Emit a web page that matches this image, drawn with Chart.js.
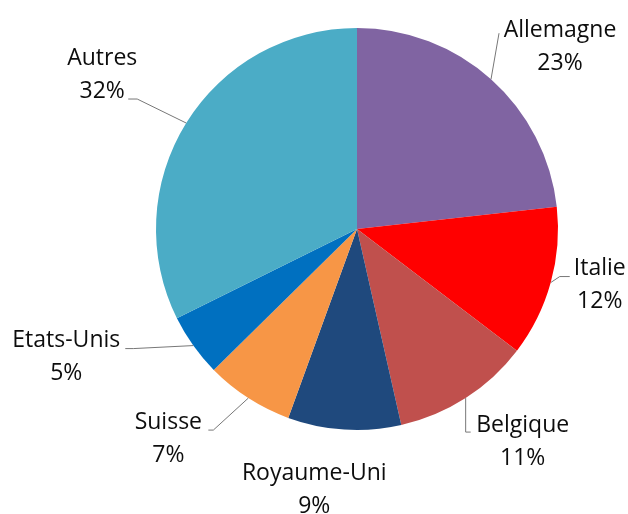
<!DOCTYPE html>
<html>
<head>
  <title>Répartition par pays</title>
  <script src="https://cdn.jsdelivr.net/npm/chart.js"></script>
  <style>
    body { margin: 0; background: #fff; }
  </style>
</head>
<body>
  <canvas id="chart" width="628" height="514"></canvas>

  <script>
    // Data
    const countries = ['Allemagne', 'Italie', 'Belgique', 'Royaume-Uni', 'Suisse', 'Etats-Unis', 'Autres'];
    const shares = [23, 12, 11, 9, 7, 5, 32];
    const colors = ['#8064A2', '#FF0000', '#C0504D', '#1F497D', '#F79646', '#0070C0', '#4BACC6'];

    // Label placement, relative to the point where each slice's mid-angle meets the rim
    const labelOffsets = [[69, -32], [49, 2], [57, 44], [-30, 60], [-80, 41], [-127, 11], [-84, -48]];
    // Leader line points (relative to the same rim point)
    const leaders = [
      [[8, -46]],
      [[9, -6], [19, -6]],
      [[0, 34], [5, 34]],
      [],
      [[-35, 32], [-40, 32]],
      [[-60, 3], [-68, 3]],
      [[-49, -24], [-58, -24]]
    ];

    const FONT = '23px "Open Sans", sans-serif';
    const LINE = 33;

    const labelPlugin = {
      id: 'pieLabels',
      afterDatasetsDraw(chart) {
        const ctx = chart.ctx;
        const arcs = chart.getDatasetMeta(0).data;
        ctx.save();
        arcs.forEach((arc, i) => {
          const mid = (arc.startAngle + arc.endAngle) / 2;
          const ax = arc.x + arc.outerRadius * Math.cos(mid);
          const ay = arc.y + arc.outerRadius * Math.sin(mid);

          // leader line
          if (leaders[i].length) {
            ctx.strokeStyle = '#777777';
            ctx.lineWidth = 1;
            ctx.beginPath();
            ctx.moveTo(ax, ay);
            leaders[i].forEach(p => ctx.lineTo(ax + p[0], ay + p[1]));
            ctx.stroke();
          }

          // two-line label
          const cx = ax + labelOffsets[i][0];
          const cy = ay + labelOffsets[i][1];
          ctx.fillStyle = '#0d0d0d';
          ctx.font = FONT;
          ctx.textAlign = 'center';
          ctx.textBaseline = 'middle';
          ctx.fillText(countries[i], cx, cy - LINE / 2);
          ctx.fillText(shares[i] + '%', cx, cy + LINE / 2);
        });
        ctx.restore();
      }
    };

    const chart = new Chart(document.getElementById('chart'), {
      type: 'pie',
      data: {
        labels: countries,
        datasets: [{
          data: shares,
          backgroundColor: colors,
          borderWidth: 0
        }]
      },
      options: {
        responsive: false,
        animation: false,
        layout: {
          padding: { left: 156, right: 70, top: 28, bottom: 84 }
        },
        plugins: {
          legend: { display: false },
          tooltip: { enabled: false }
        }
      },
      plugins: [labelPlugin]
    });
  </script>
</body>
</html>
